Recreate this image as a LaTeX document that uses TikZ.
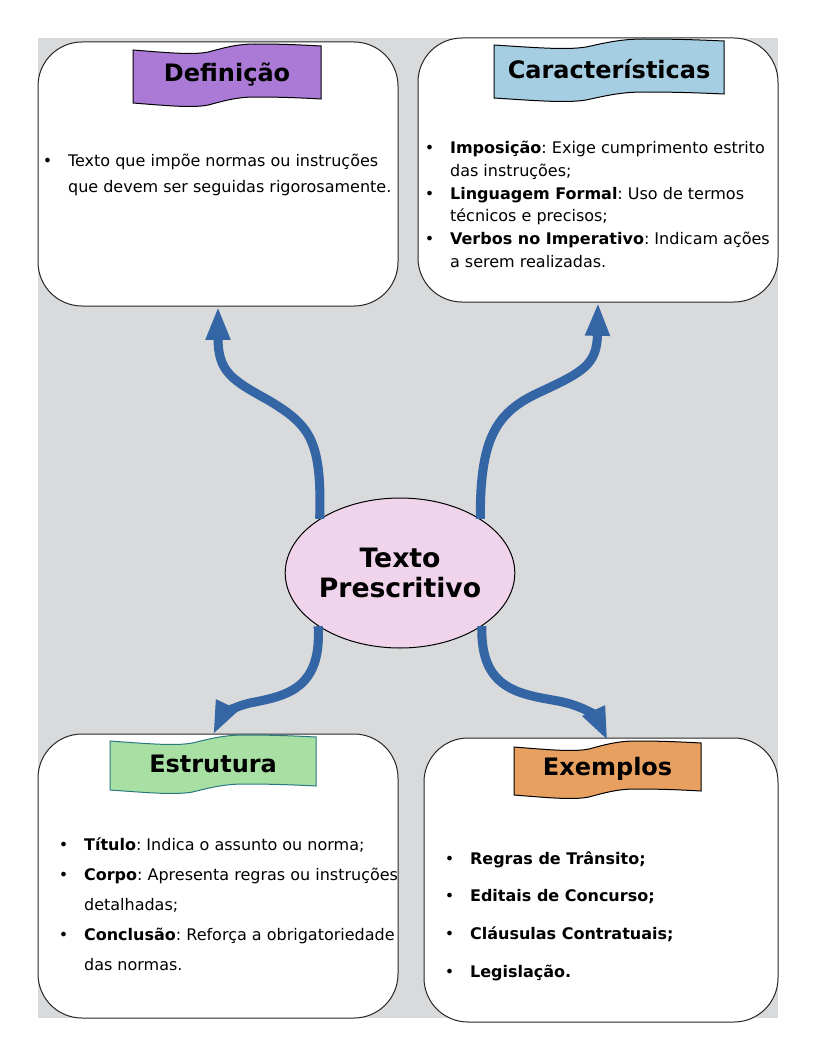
\documentclass[tikz,border=0pt]{standalone}
\usepackage{fontspec}
\setmainfont{DejaVu Sans}
\usetikzlibrary{arrows.meta,shapes.geometric}

\definecolor{bgGray}{RGB}{217,218,219}
\definecolor{flowBlue}{RGB}{52,101,164}
\definecolor{hubPink}{RGB}{240,212,236}
\definecolor{defPurple}{RGB}{170,122,214}
\definecolor{carBlue}{RGB}{166,206,227}
\definecolor{estGreen}{RGB}{168,224,164}
\definecolor{estEdge}{RGB}{40,120,130}
\definecolor{exeOrange}{RGB}{232,160,96}

\frenchspacing
\newcommand\itemdot{\makebox[19pt][l]{\mdseries •}}
\newcommand\itemgap{\hspace*{19pt}}

% wavy title banner: name, x, y, width, height, fill, edge, title
\newcommand\flag[8]{%
  \begin{scope}[shift={(#2,#3)}, x=#4*0.0075pt]
    \filldraw[fill=#6, draw=#7, line width=0.75pt]
      (0,6) .. controls (20,9) and (32,11) .. (40,8)
      .. controls (48,4) and (55,0) .. (65,0)
      .. controls (80,0) and (90,1) .. (100,2)
      -- (100,#5-6) .. controls (90,#5-7) and (80,#5-8) .. (65,#5-8)
      .. controls (55,#5-8) and (48,#5-4) .. (40,#5)
      .. controls (32,#5+3) and (20,#5+1) .. (0,#5-2) -- cycle;
    \node[flagtext, minimum width=#4*0.75pt, minimum height=#5*0.75pt] (#1) at (50,#5/2) {#8};
  \end{scope}}

\begin{document}
\begin{tikzpicture}[x=0.75pt,y=-0.75pt,
    card/.style={draw=black!85, line width=0.75pt, fill=white, rounded corners=33pt,
                 minimum width=270pt, inner sep=0pt},
    flagtext/.style={inner sep=0pt, font=\fontsize{18}{22}\selectfont\bfseries},
    bodytext/.style={anchor=north west, align=left, inner sep=0pt},
    flow/.style={draw=flowBlue, line width=6.8pt, -{Triangle[length=25pt,width=17pt]}}]

  \useasboundingbox (0,0) rectangle (816,1056);
  \fill[bgGray] (38,38) rectangle (778,1018);

  % the four cards
  \node[card, minimum height=198pt] (defBox) at (218,174) {};
  \node[card, minimum height=198pt] (carBox) at (598,170) {};
  \node[card, minimum height=213pt] (estBox) at (218,876) {};
  \node[card, minimum height=213pt, minimum width=265.5pt] (exeBox) at (601,880) {};

  % banners
  \flag{defFlag}{133}{44}{188}{61}{defPurple}{black}{Definição}
  \flag{carFlag}{494}{39}{230}{61}{carBlue}{black}{Características}
  \flag{estFlag}{110}{735}{206}{57}{estGreen}{estEdge}{Estrutura}
  \flag{exeFlag}{514}{741}{187}{56}{exeOrange}{black}{Exemplos}

  % card texts
  \node[bodytext, font=\fontsize{12}{19.5}\selectfont] (defText) at (42.5,154)
    {\itemdot Texto que impõe normas ou instruções\\
     \itemgap que devem ser seguidas rigorosamente.};

  \node[bodytext, font=\fontsize{12}{17}\selectfont] (carText) at (424.5,141)
    {\itemdot\textbf{Imposição}: Exige cumprimento estrito\\
     \itemgap das instruções;\\
     \itemdot\textbf{Linguagem Formal}: Uso de termos\\
     \itemgap técnicos e precisos;\\
     \itemdot\textbf{Verbos no Imperativo}: Indicam ações\\
     \itemgap a serem realizadas.};

  \node[bodytext, font=\fontsize{12}{22.5}\selectfont] (estText) at (58.5,837.5)
    {\itemdot\textbf{Título}: Indica o assunto ou norma;\\
     \itemdot\textbf{Corpo}: Apresenta regras ou instruções\\
     \itemgap detalhadas;\\
     \itemdot\textbf{Conclusão}: Reforça a obrigatoriedade\\
     \itemgap das normas.};

  \node[bodytext, font=\fontsize{12}{28.3}\selectfont\bfseries] (exeText) at (444.5,851)
    {\itemdot Regras de Trânsito;\\
     \itemdot Editais de Concurso;\\
     \itemdot Cláusulas Contratuais;\\
     \itemdot Legislação.};

  % centre
  \node[ellipse, draw=black, line width=0.75pt, fill=hubPink, minimum width=169.5pt,
        minimum height=112.5pt, inner sep=0pt, align=center,
        font=\fontsize{20}{23}\selectfont\bfseries] (hub) at (400,573) {Texto\\Prescritivo};

  % connectors
  \draw[flow] (hub.146) .. controls (322,440) and (310,425) .. (268,400)
              .. controls (232,380) and (218,372) .. (defBox.south);
  \draw[flow] (hub.34) .. controls (480,440) and (495,413) .. (538,393)
              .. controls (583,372) and (597,365) .. (carBox.south);
  \draw[flow] (hub.213) .. controls (322,690) and (285,696) .. (250,703)
              .. controls (232,707) and (222,716) .. (estFlag.north);
  \draw[flow] (hub.327) .. controls (480,690) and (520,694) .. (558,701)
              .. controls (585,706) and (597,718) .. (exeFlag.north);

\end{tikzpicture}
\end{document}
